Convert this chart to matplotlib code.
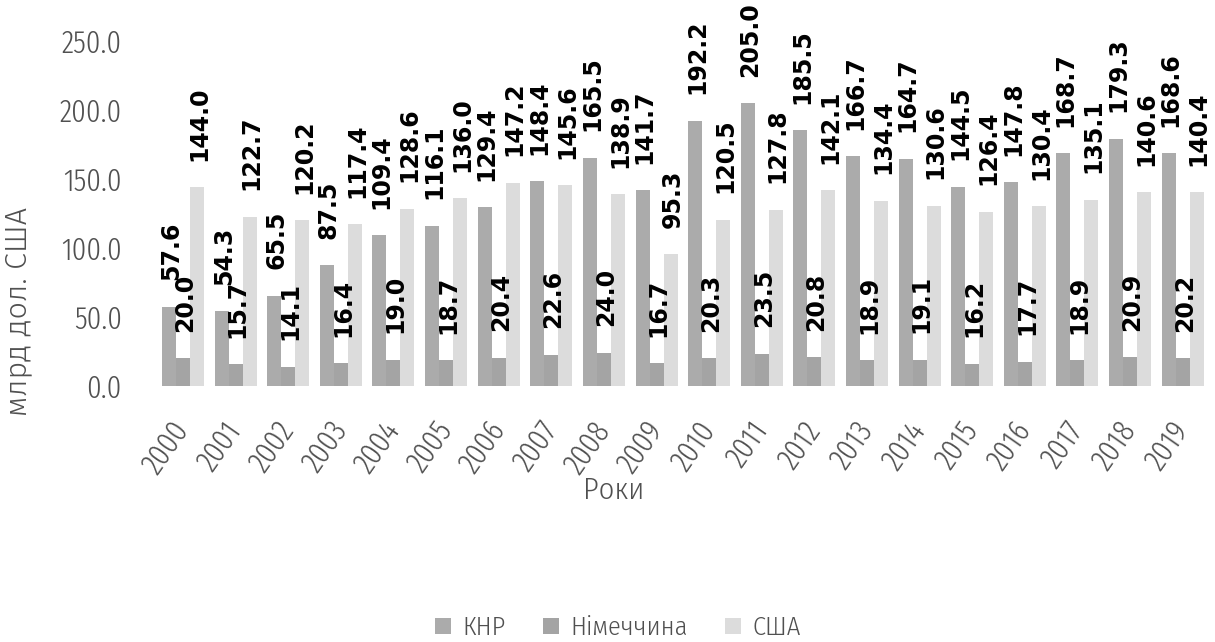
import matplotlib
matplotlib.use("Agg")
import matplotlib.pyplot as plt
from matplotlib import font_manager
import numpy as np

years = ["2000", "2001", "2002", "2003", "2004", "2005", "2006", "2007", "2008", "2009",
         "2010", "2011", "2012", "2013", "2014", "2015", "2016", "2017", "2018", "2019"]
china = [57.6, 54.3, 65.5, 87.5, 109.4, 116.1, 129.4, 148.4, 165.5, 141.7,
         192.2, 205.0, 185.5, 166.7, 164.7, 144.5, 147.8, 168.7, 179.3, 168.6]
germany = [20.0, 15.7, 14.1, 16.4, 19.0, 18.7, 20.4, 22.6, 24.0, 16.7,
           20.3, 23.5, 20.8, 18.9, 19.1, 16.2, 17.7, 18.9, 20.9, 20.2]
usa = [144.0, 122.7, 120.2, 117.4, 128.6, 136.0, 147.2, 145.6, 138.9, 95.3,
       120.5, 127.8, 142.1, 134.4, 130.6, 126.4, 130.4, 135.1, 140.6, 140.4]
series_names = ["КНР", "Німеччина", "США"]
yticks = [0, 50, 100, 150, 200, 250]

available = {f.name for f in font_manager.fontManager.ttflist}


def pick(cands):
    for c in cands:
        if c in available:
            return c
    return "DejaVu Sans"


narrow = pick(["Fira Sans Extra Condensed", "IBM Plex Sans Condensed", "Fira Sans Condensed", "Open Sans"])
semi = pick(["Fira Sans Condensed", "IBM Plex Sans Condensed", "Fira Sans Extra Condensed", "Open Sans"])
wide = pick(["Fira Sans", "Open Sans", "Noto Sans"])
light = 300

W, H = 1215, 642
fig = plt.figure(figsize=(W / 100, H / 100), dpi=100)
ax = fig.add_axes([156.7 / W, 1 - 386 / H, (1209 - 156.7) / W, (386 - 41) / H])

colors = ["#ABABAB", "#A4A4A4", "#DCDCDC"]
bw = 0.266
x = np.arange(len(years))
data = [china, germany, usa]
for i, (vals, c, name) in enumerate(zip(data, colors, series_names)):
    pos = x + (i - 1) * bw
    ax.bar(pos, vals, width=bw, color=c, label=name, zorder=2)
    for xb, v in zip(pos, vals):
        ax.annotate(f"{v:.1f}", xy=(xb, v), xytext=(1.5, 19), textcoords="offset points",
                    rotation=90, ha="center", va="bottom", fontsize=17,
                    fontweight="bold", family="DejaVu Sans", color="black")

ax.set_xlim(-0.5, len(years) - 0.5)
ax.set_ylim(0, 250)
ax.set_yticks(yticks)
ax.set_yticklabels([f"{t:.1f}" for t in yticks], family=narrow, fontweight=light,
                   fontsize=22.5, color="#505050")
ax.set_xticks(x)
ax.set_xticklabels(years, family=narrow, fontweight=light, fontsize=22.5, color="#505050",
                   rotation=55, ha="right", va="center", rotation_mode="anchor")
ax.tick_params(axis="both", length=0)
ax.tick_params(axis="x", pad=28)
ax.tick_params(axis="y", pad=25)
for s in ax.spines.values():
    s.set_visible(False)

fig.text(614 / W, 1 - 491 / H, "Роки", ha="center", va="center", family=semi,
         fontweight=light, fontsize=22, color="#505050")
fig.text(18 / W, 1 - 207 / H, "млрд дол. США", ha="center", va="top", rotation=90,
         family=wide, fontweight=light, fontsize=22, color="#505050")

handles, labels = ax.get_legend_handles_labels()
fig.legend(handles, labels, loc="center", bbox_to_anchor=(618 / W, 1 - 628 / H), ncol=3,
           frameon=False, prop={"family": semi, "weight": light, "size": 19},
           labelcolor="#505050", handlelength=0.6, handleheight=0.6, handletextpad=0.45,
           columnspacing=1.4)

fig.savefig("out.png", dpi=100)
